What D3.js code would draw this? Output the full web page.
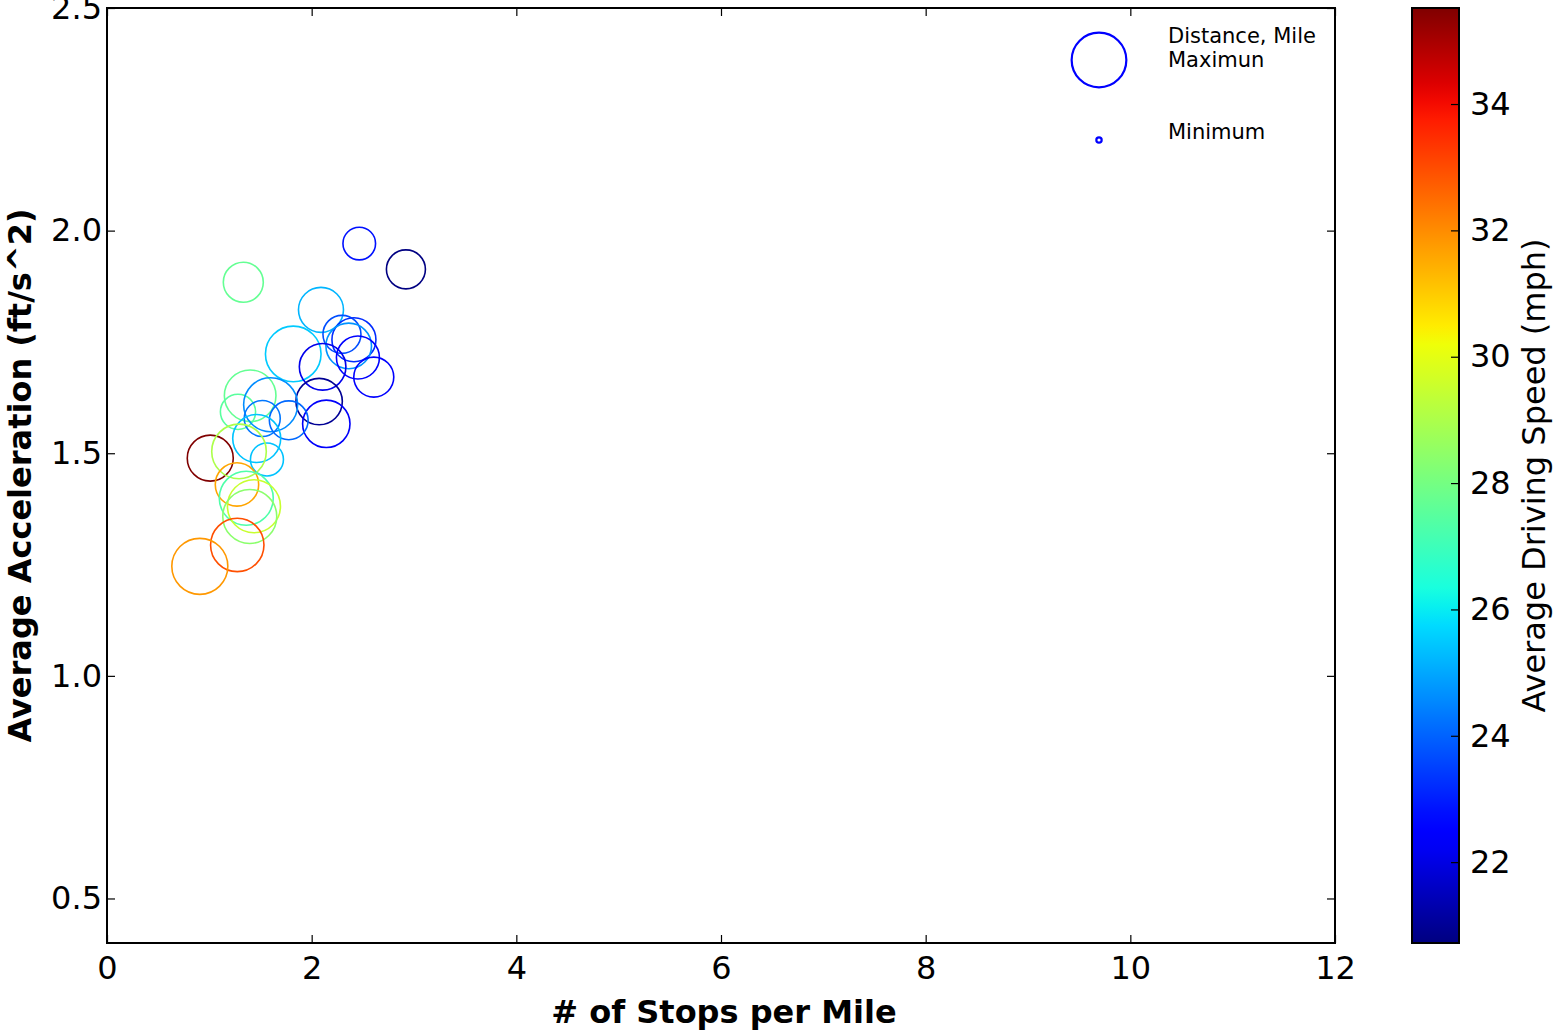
<!DOCTYPE html>
<html><head><meta charset="utf-8">
<script src="https://cdn.jsdelivr.net/npm/d3@7/dist/d3.min.js"></script>
<style>body{margin:0;background:#fff;} text{font-family:"DejaVu Sans",sans-serif;}</style>
</head><body><svg id="c" width="1556" height="1030"></svg>
<script>
// data
const stopsPerMile = [2.465,2.921,1.332,2.091,1.820,2.296,2.413,2.362,2.452,2.607,2.107,2.073,2.143,1.399,1.280,1.599,1.517,1.776,1.463,1.563,1.009,1.290,1.270,1.361,1.436,1.395,1.273,0.907];
const avgAccel    = [1.971,1.913,1.884,1.822,1.723,1.767,1.755,1.741,1.715,1.671,1.694,1.616,1.566,1.629,1.593,1.609,1.578,1.574,1.533,1.486,1.489,1.504,1.430,1.399,1.381,1.358,1.294,1.246];
const avgSpeed    = [22.8,20.75,27.7,25.2,25.5,23.7,23.2,24.7,22.6,22.4,22.1,21.0,22.3,27.7,27.5,24.6,24.3,24.1,25.4,25.4,35.52,29.0,31.6,27.3,29.5,28.4,32.95,31.8];
const distance    = [7.46,10.67,11.22,14.21,21.69,10.13,13.58,14.59,12.97,11.22,15.23,15.1,15.76,18.68,8.69,20.46,9.09,10.56,16.16,7.64,14.84,20.91,13.21,20.46,19.7,20.46,20.0,22.0];
const xTicks = [0,2,4,6,8,10,12];
const yTicks = [0.5,1.0,1.5,2.0,2.5];
const cTicks = [22,24,26,28,30,32,34];
const legendItems = [{label:["Distance, Mile","Maximun"], value:21},{label:["Minimum"], value:0.2}];

const svg = d3.select("#c");
const L=107,R=1335,T=8,B=943;
const x = d3.scaleLinear().domain([0,12]).range([L,R]);
const y = d3.scaleLinear().domain([0.4,2.5]).range([B,T]);
const r = d3.scaleSqrt().domain([0,22]).range([0,28]);
const sMin=20.72,sMax=35.52;
function interp(pts,t){for(let i=1;i<pts.length;i++){if(t<=pts[i][0]){const[a,va]=pts[i-1],[b,vb]=pts[i];return va+(vb-va)*(t-a)/(b-a);}}return pts[pts.length-1][1];}
const jR=[[0,0],[0.35,0],[0.66,1],[0.89,1],[1,0.5]];
const jG=[[0,0],[0.125,0],[0.375,1],[0.64,1],[0.91,0],[1,0]];
const jB=[[0,0.5],[0.11,1],[0.34,1],[0.65,0],[1,0]];
function jet(t){t=Math.max(0,Math.min(1,t));return d3.rgb(255*interp(jR,t),255*interp(jG,t),255*interp(jB,t)).formatHex();}
const cs = d3.scaleLinear().domain([sMin,sMax]).range([0,1]);
const color = v=>jet(cs(v));

// points
const data = stopsPerMile.map((v,i)=>({x:v,y:avgAccel[i],s:avgSpeed[i],d:distance[i]}));
svg.append("g").selectAll("circle").data(data).enter().append("circle")
  .attr("cx",d=>x(d.x)).attr("cy",d=>y(d.y)).attr("r",d=>r(d.d))
  .attr("fill","none").attr("stroke",d=>color(d.s)).attr("stroke-width",1.6);

// axes with inward ticks
const fs=32;
const gx=svg.append("g").attr("transform",`translate(0,${B})`).call(d3.axisBottom(x).tickValues(xTicks).tickSizeInner(-8).tickSizeOuter(0).tickPadding(13).tickFormat(d3.format("d")));
const gxt=svg.append("g").attr("transform",`translate(0,${T})`).call(d3.axisTop(x).tickValues(xTicks).tickSizeInner(-8).tickSizeOuter(0).tickFormat(""));
const gy=svg.append("g").attr("transform",`translate(${L},0)`).call(d3.axisLeft(y).tickValues(yTicks).tickSizeInner(-8).tickSizeOuter(0).tickPadding(5).tickFormat(d3.format(".1f")));
const gyr=svg.append("g").attr("transform",`translate(${R},0)`).call(d3.axisRight(y).tickValues(yTicks).tickSizeInner(-8).tickSizeOuter(0).tickFormat(""));
[gx,gxt,gy,gyr].forEach(g=>{g.select(".domain").remove();g.selectAll("line").attr("stroke","#000").attr("stroke-width",1.2);g.selectAll("text").attr("font-size",fs).attr("fill","#000").attr("font-family","DejaVu Sans");});
gx.selectAll("text").attr("dy","0.71em");
svg.append("rect").attr("x",L).attr("y",T).attr("width",R-L).attr("height",B-T).attr("fill","none").attr("stroke","#000").attr("stroke-width",2);

// axis labels
svg.append("text").attr("x",724).attr("y",1023).attr("text-anchor","middle").attr("font-size",32).attr("font-weight","bold").text("# of Stops per Mile");
svg.append("text").attr("transform",`translate(31,${(T+B)/2}) rotate(-90)`).attr("text-anchor","middle").attr("font-size",32).attr("font-weight","bold").text("Average Acceleration (ft/s^2)");

// legend
const lg=svg.append("g");
const lx=1099, ly=[60,140];
legendItems.forEach((it,i)=>{
  lg.append("circle").attr("cx",lx).attr("cy",ly[i]).attr("r",r(it.value)).attr("fill","none").attr("stroke","#0000ff").attr("stroke-width",2.2);
  it.label.forEach((t,j)=>{
    lg.append("text").attr("x",1168).attr("y",(i===0?43:139)+j*24).attr("font-size",21).attr("fill","#000").text(t);
  });
});

// colorbar
const CX=1412,CW=47;
const cy = d3.scaleLinear().domain([sMin,sMax]).range([B,T]);
const defs=svg.append("defs");
const grad=defs.append("linearGradient").attr("id","jet").attr("x1",0).attr("y1",1).attr("x2",0).attr("y2",0);
d3.range(0,1.0001,0.02).forEach(t=>grad.append("stop").attr("offset",t).attr("stop-color",jet(t)));
svg.append("rect").attr("x",CX).attr("y",T).attr("width",CW).attr("height",B-T).attr("fill","url(#jet)").attr("stroke","#000").attr("stroke-width",2);
const gc=svg.append("g").attr("transform",`translate(${CX+CW},0)`).call(d3.axisRight(cy).tickValues(cTicks).tickSizeInner(-8).tickSizeOuter(0).tickPadding(11).tickFormat(d3.format("d")));
gc.select(".domain").remove();
gc.selectAll("line").attr("stroke","#000").attr("stroke-width",1.2);
gc.selectAll("text").attr("font-size",fs).attr("fill","#000");
svg.append("text").attr("transform",`translate(1545,${(T+B)/2}) rotate(-90)`).attr("text-anchor","middle").attr("font-size",32).text("Average Driving Speed (mph)");
</script></body></html>
